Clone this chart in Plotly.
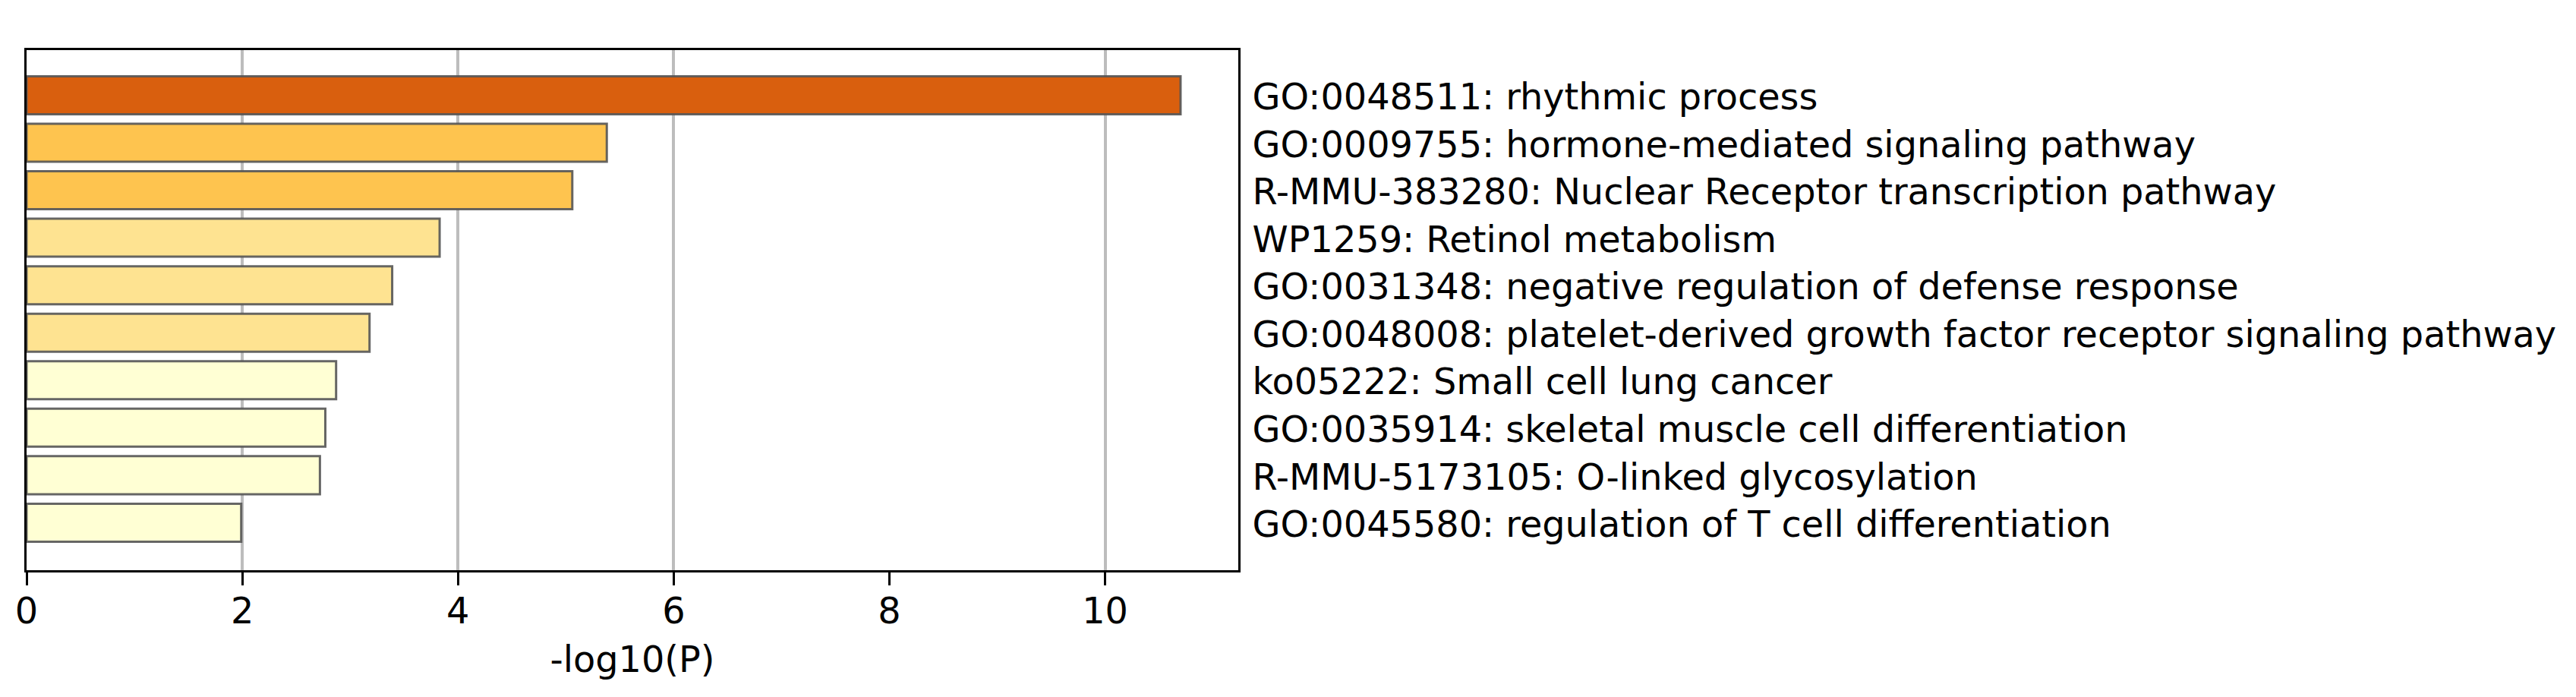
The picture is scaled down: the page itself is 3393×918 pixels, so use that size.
import plotly.graph_objects as go

terms = [
    "GO:0048511: rhythmic process",
    "GO:0009755: hormone-mediated signaling pathway",
    "R-MMU-383280: Nuclear Receptor transcription pathway",
    "WP1259: Retinol metabolism",
    "GO:0031348: negative regulation of defense response",
    "GO:0048008: platelet-derived growth factor receptor signaling pathway",
    "ko05222: Small cell lung cancer",
    "GO:0035914: skeletal muscle cell differentiation",
    "R-MMU-5173105: O-linked glycosylation",
    "GO:0045580: regulation of T cell differentiation",
]
neg_log10_p = [10.70, 5.38, 5.06, 3.83, 3.39, 3.18, 2.87, 2.77, 2.72, 1.99]
bar_colors = ["#D95F0E", "#FEC44F", "#FEC44F", "#FEE391", "#FEE391", "#FEE391",
              "#FFFFD4", "#FFFFD4", "#FFFFD4", "#FFFFD4"]
x_ticks = [0, 2, 4, 6, 8, 10]
grid_vals = [2, 4, 6, 10]

FONT = "DejaVu Sans"
FS = 47.75
xmax = max(neg_log10_p) * 1.05
n = len(terms)
yr = [n - 1 + 1.0, -0.95]

fig = go.Figure()
fig.add_trace(go.Bar(
    x=neg_log10_p, y=terms, orientation="h", width=0.8,
    marker=dict(color=bar_colors, line=dict(color="rgba(85,85,85,0.9)", width=3)),
    showlegend=False,
))

fig.update_layout(
    template="none",
    width=3385, height=910,
    margin=dict(l=27, r=1762, t=58, b=167),
    paper_bgcolor="white", plot_bgcolor="white",
    font=dict(family=FONT, size=FS, color="black"),
    xaxis=dict(
        range=[0, xmax], automargin=False,
        tickvals=x_ticks, ticktext=[str(v) for v in x_ticks],
        ticks="outside", ticklen=17, tickwidth=3, tickcolor="black",
        ticklabelstandoff=-7,
        showgrid=False, zeroline=False,
        minor=dict(tickvals=grid_vals, showgrid=True, gridcolor="#bdbdbd",
                   gridwidth=4, ticks=""),
        showline=True, linecolor="black", linewidth=3, mirror=True,
        title=dict(text="-log10(P)", standoff=21, font=dict(family=FONT, size=FS)),
        tickfont=dict(family=FONT, size=FS),
    ),
    yaxis=dict(
        type="category", categoryorder="array", categoryarray=terms,
        range=yr, side="right", ticks="", ticklen=0, automargin=False,
        showgrid=False, zeroline=False,
        showline=True, linecolor="black", linewidth=3, mirror=True,
        ticklabelstandoff=6, ticklabelshift=-2,
        tickfont=dict(family=FONT, size=FS),
    ),
)

fig.write_html("out.html")
